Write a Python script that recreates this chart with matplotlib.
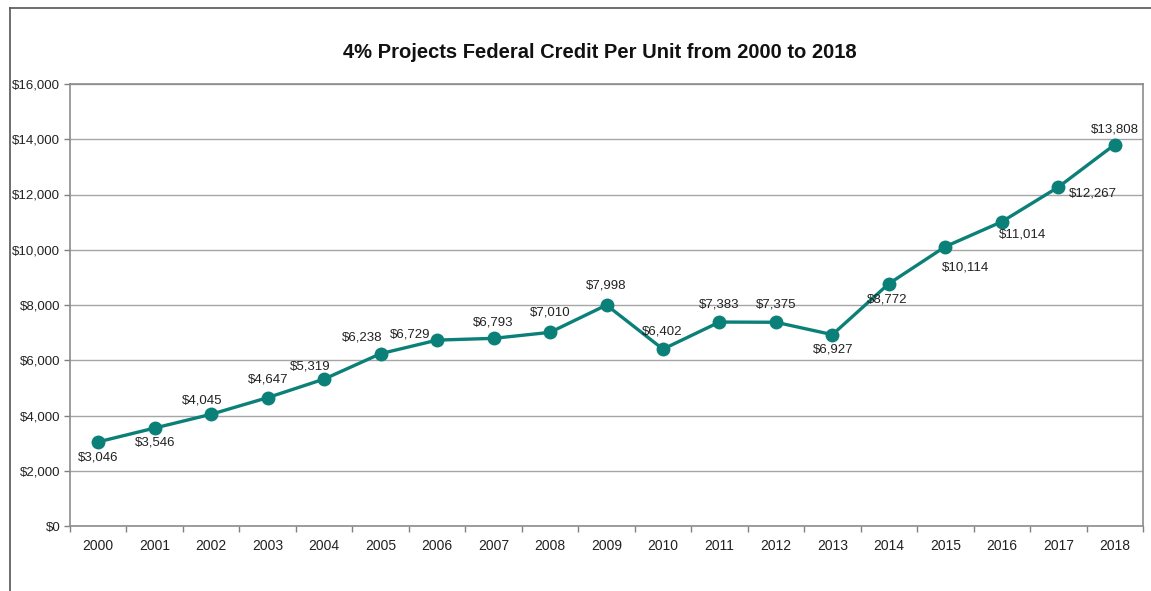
import numpy as np
import matplotlib
matplotlib.use('Agg')
import matplotlib.pyplot as plt
from matplotlib.lines import Line2D
from matplotlib.ticker import FuncFormatter

plt.rcParams['font.family'] = ['Liberation Sans', 'DejaVu Sans']

years = ['2000', '2001', '2002', '2003', '2004', '2005', '2006', '2007', '2008', '2009',
         '2010', '2011', '2012', '2013', '2014', '2015', '2016', '2017', '2018']
credit = [3046, 3546, 4045, 4647, 5319, 6238, 6729, 6793, 7010, 7998,
          6402, 7383, 7375, 6927, 8772, 10114, 11014, 12267, 13808]
title = '4% Projects Federal Credit Per Unit from 2000 to 2018'

# label centre offsets from each point, in pixels (x right, y down)
label_offsets = [(0, 16), (0, 14), (-9, -14), (0, -18), (-14, -13), (-18, -16), (-27, -6),
                 (0, -16), (0, -20), (0, -20), (-1, -18), (0, -18), (0, -18), (1, 15),
                 (-2, 16), (20, 21), (21, 13), (35, 6), (0, -15)]

teal = '#0b8078'
grid_c = '#a6a6a6'
text_c = '#222222'

fig = plt.figure(figsize=(11.51, 5.91), dpi=100)
ax = fig.add_axes([70 / 1151, 65 / 591, 1073 / 1151, 442 / 591])

x = np.arange(len(years))
ax.plot(x, credit, color=teal, linewidth=2.4, marker='o', markersize=9, zorder=5)

px = 72 / fig.dpi
for xi, v, (dx, dy) in zip(x, credit, label_offsets):
    ax.annotate(f'${v:,}', (xi, v), xytext=(dx * px, -dy * px), textcoords='offset points',
                ha='center', va='center', fontsize=9.5, color=text_c, zorder=6)

ax.set_xlim(-0.5, len(years) - 0.5)
ax.set_ylim(0, 16000)
ax.set_yticks(np.arange(0, 16001, 2000))
ax.yaxis.set_major_formatter(FuncFormatter(lambda v, _: f'${int(v):,}'))
ax.grid(axis='y', color=grid_c, linewidth=1.0)
ax.set_axisbelow(True)

ax.set_xticks(x)
ax.set_xticklabels(years)
ax.set_xticks(np.arange(-0.5, len(years), 1.0), minor=True)
ax.tick_params(axis='x', which='major', length=0, pad=9, labelsize=10, labelcolor=text_c)
ax.tick_params(axis='x', which='minor', length=4, color='#808080', width=1)
ax.tick_params(axis='y', length=4, color='#808080', width=1, labelsize=9.5, labelcolor=text_c, pad=3)

for s in ax.spines.values():
    s.set_color('#8c8c8c')
    s.set_linewidth(1.2)

fig.text(600 / 1151, 1 - 52 / 591, title, ha='center', va='center',
         fontsize=14.5, fontweight='bold', color='#111111')

# outer chart border (top and left edges visible)
fig.add_artist(Line2D([10 / 1151, 10 / 1151], [0, 1 - 8 / 591], transform=fig.transFigure,
                      color='#555555', linewidth=1.2))
fig.add_artist(Line2D([10 / 1151, 1], [1 - 8 / 591, 1 - 8 / 591], transform=fig.transFigure,
                      color='#555555', linewidth=1.2))

fig.savefig('out.png', dpi=100)
